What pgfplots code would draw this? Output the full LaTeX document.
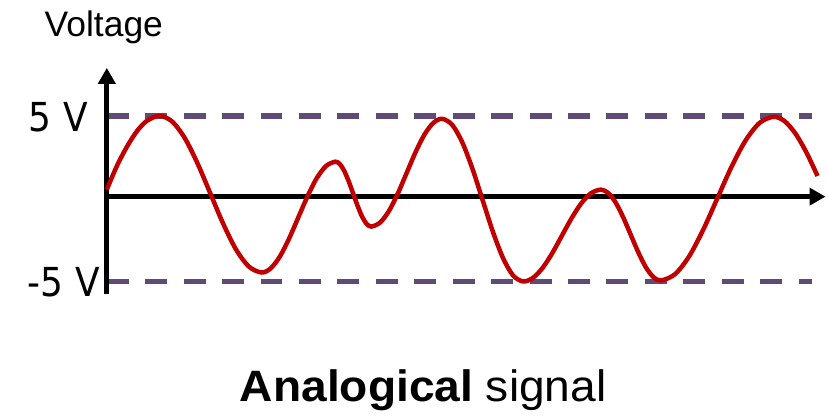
\documentclass[border=0pt]{standalone}
\usepackage{pgfplots}
\pgfplotsset{compat=1.18}
\usepackage{fontspec}
\setmainfont{Liberation Sans}
\newfontfamily\dejavu{DejaVu Sans}
\usetikzlibrary{arrows.meta}
\definecolor{sigred}{HTML}{C00000}
\definecolor{dashpurple}{HTML}{5F4A78}
\begin{document}
\begin{tikzpicture}
\begin{axis}[
  x=1pt, y=1pt,
  xmin=-107, xmax=721, ymin=-222, ymax=197,
  hide axis, clip=false, scale only axis,
]
\path (axis cs:-107,-222) rectangle (axis cs:721,197);
% dashed limits
\addplot[dashpurple, line width=5.5pt, dash pattern=on 22pt off 16.5pt] coordinates {(0,81) (706,81)};
\addplot[dashpurple, line width=5.5pt, dash pattern=on 22pt off 16.5pt] coordinates {(0,-85) (706,-85)};
% axes
\addplot[black, line width=5pt, -{Triangle[length=16pt,width=17pt]}] coordinates {(0,-98) (0,129)};
\addplot[black, line width=5pt, -{Triangle[length=16pt,width=17pt]}] coordinates {(0,0) (720,0)};
% signal
\addplot[sigred, line width=4.5pt, smooth, tension=0.5] coordinates {
(0,7) (10,30.5) (20,49.7) (30,65.3) (40,75.8) (53,81)
(65.75,75.0) (78.5,58.0) (91.25,32.5) (104,2.5) (116.75,-27.5) (129.5,-53.0) (142.25,-70.0) (155,-76)
(164.25,-71.8) (173.5,-59.8) (182.75,-41.7) (192,-20.5) (201.25,0.7) (210.5,18.8) (219.75,30.8) (229,35)
(233.5,32.5) (238,25.5) (242.5,14.9) (247,2.5) (251.5,-9.9) (256,-20.5) (260.5,-27.5) (265,-30)
(273.875,-25.9) (282.75,-14.2) (291.625,3.3) (300.5,24) (309.375,44.7) (318.25,62.2) (327.125,73.9) (336,78)
(346.125,71.8) (356.25,54.1) (366.375,27.7) (376.5,-3.5) (386.625,-34.7) (396.75,-61.1) (406.875,-78.8) (417,-85)
(426.75,-81.5) (436.5,-71.5) (446.25,-56.6) (456,-39) (465.75,-21.4) (475.5,-6.5) (485.25,3.5) (495,7)
(502.5,3.5) (510,-6.3) (517.5,-21.1) (525,-38.5) (532.5,-55.9) (540,-70.7) (547.5,-80.5) (555,-84)
(569.125,-77.8) (583.25,-60) (597.375,-33.4) (611.5,-2) (625.625,29.4) (639.75,56) (653.875,73.8) (668,80)
(679,75.6) (690,63.0) (701,44.0) (712,20.7)};
\node[anchor=base, inner sep=0pt, font=\fontsize{35.5}{40}\selectfont] at (axis cs:-3,160) {Voltage};
\node[anchor=base east, inner sep=0pt, font=\dejavu\fontsize{40}{44}\selectfont] at (axis cs:-19,65) {\scalebox{0.9}[1]{5 V}};
\node[anchor=base east, inner sep=0pt, font=\dejavu\fontsize{40}{44}\selectfont] at (axis cs:-7,-100) {\scalebox{0.9}[1]{-5 V}};
\node[anchor=base, inner sep=0pt, font=\fontsize{44}{50}\selectfont] at (axis cs:317,-205) {\scalebox{1.05}[1]{\textbf{Analogical} signal}};
\end{axis}
\end{tikzpicture}
\end{document}
